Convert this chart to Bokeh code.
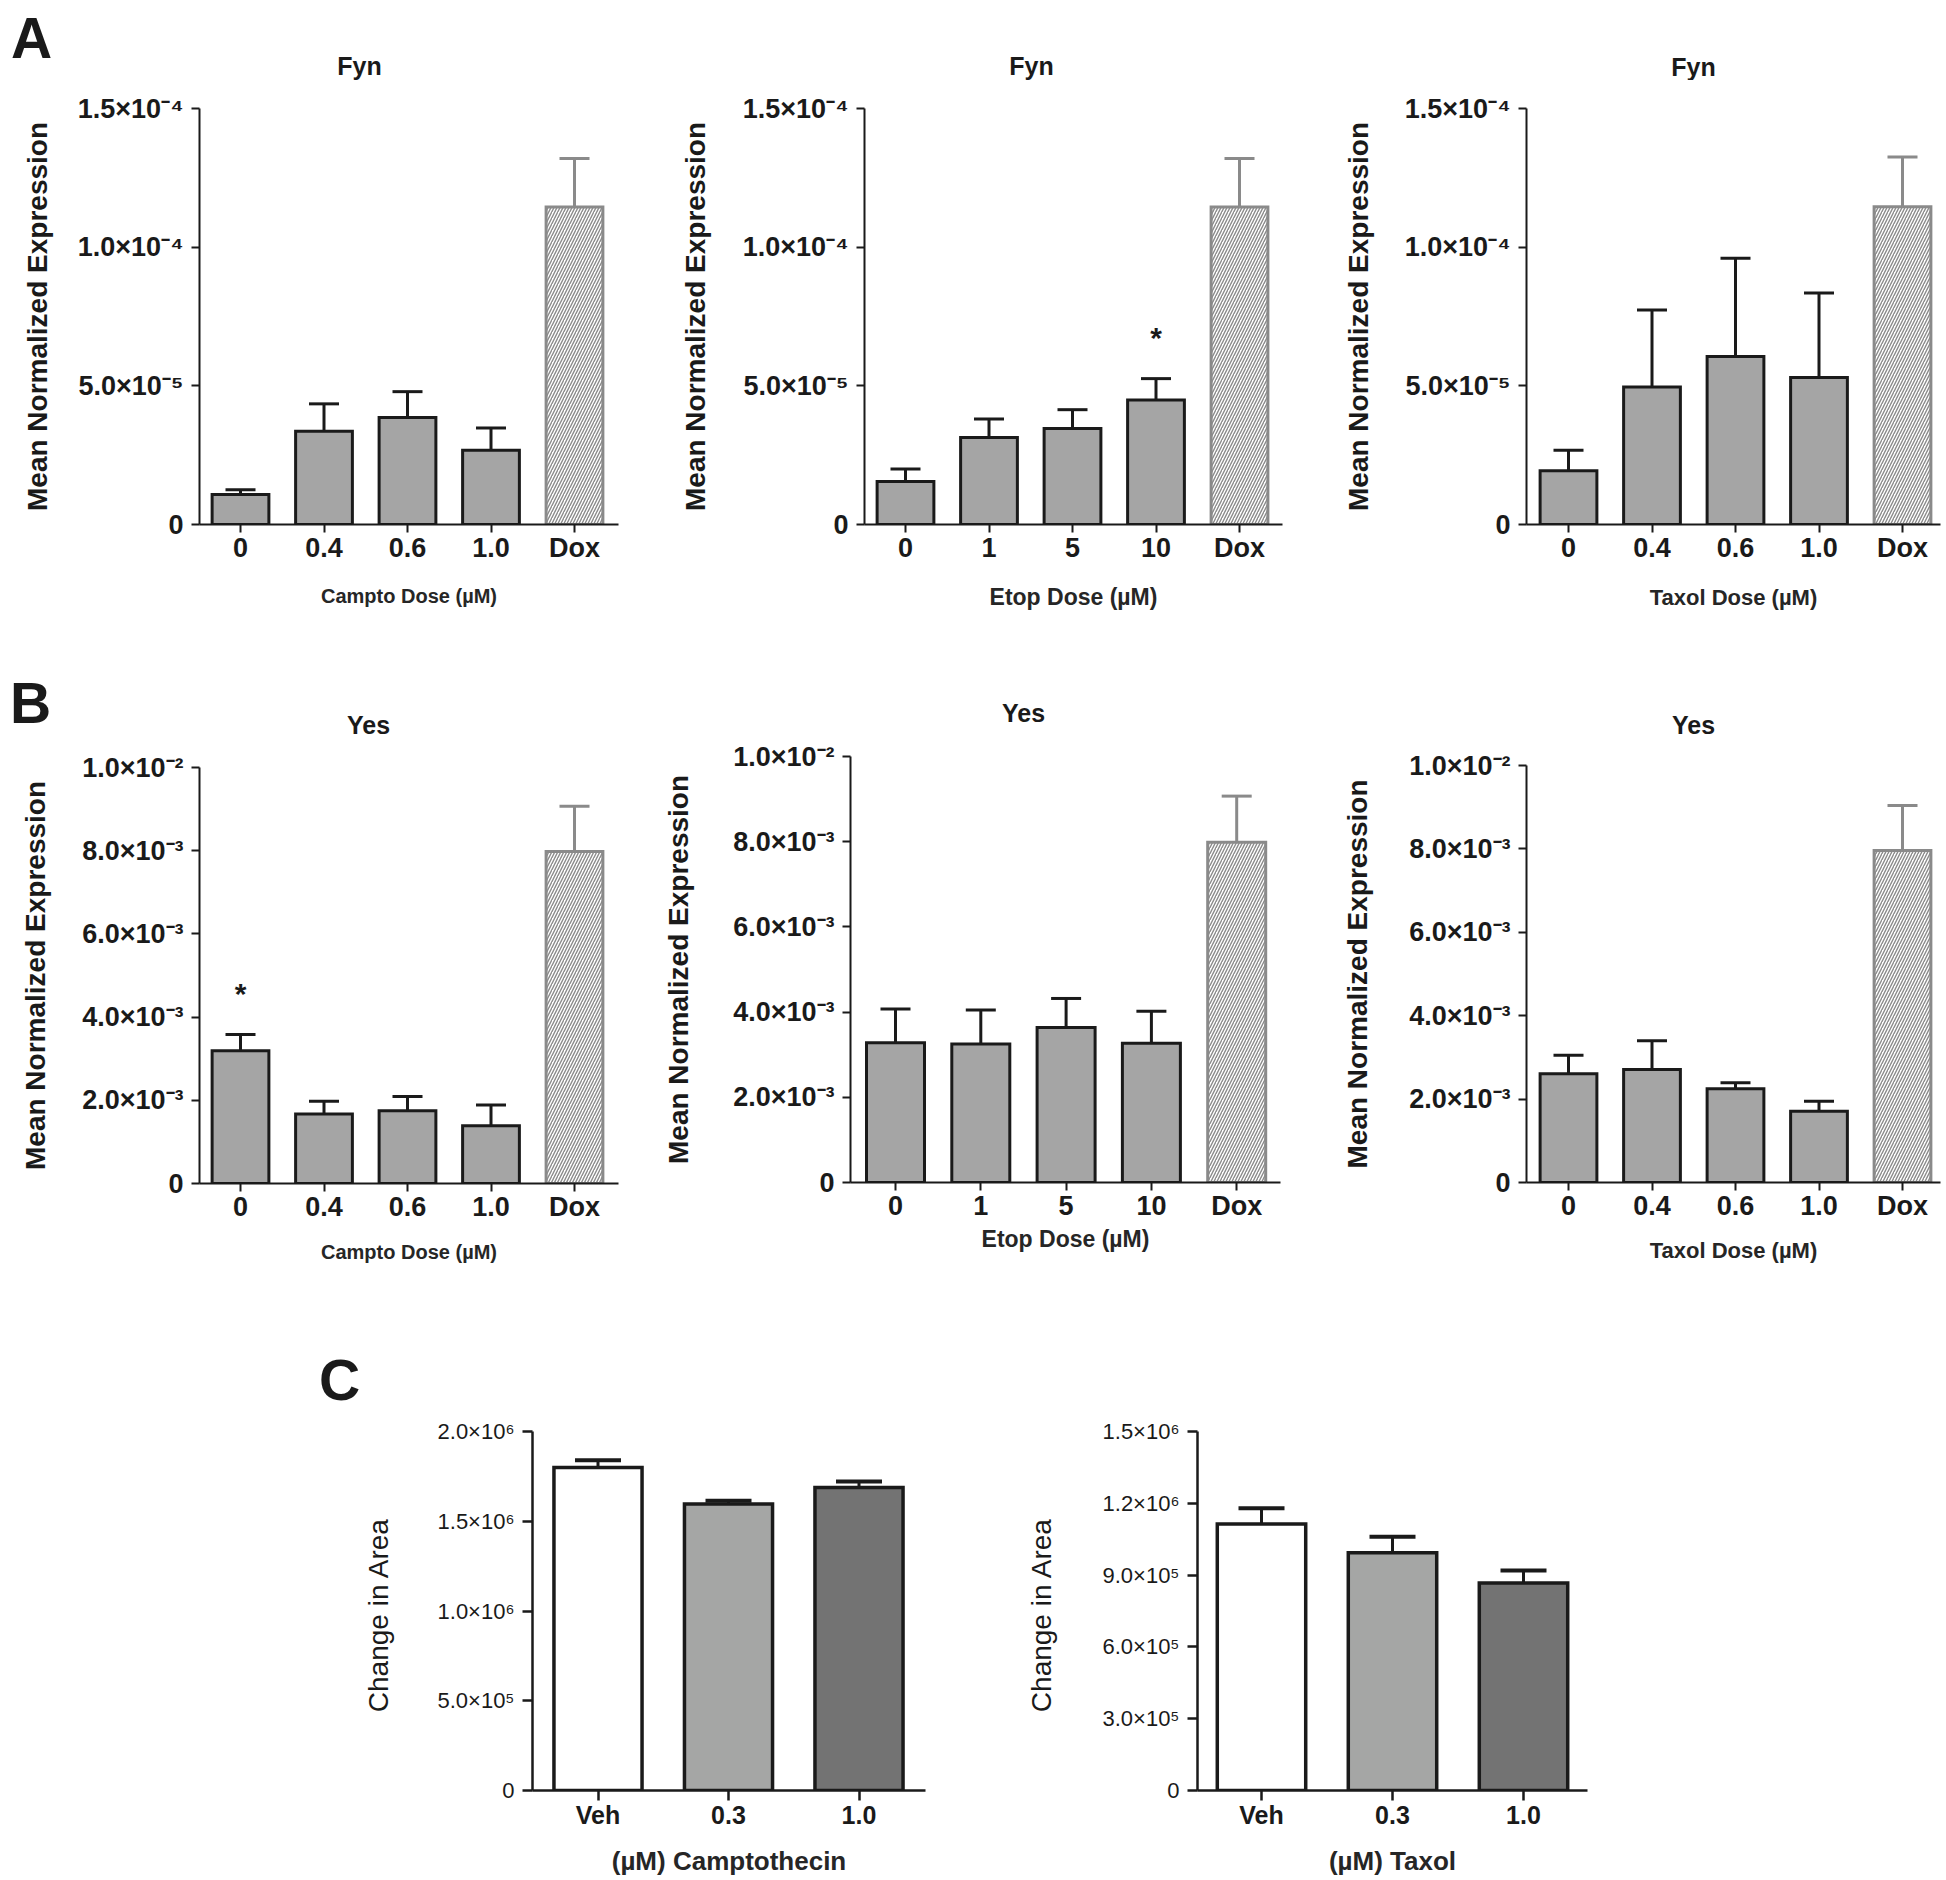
from bokeh.plotting import figure
from bokeh.layouts import row, column
from bokeh.models import FixedTicker, Range1d, Whisker, TeeHead, ColumnDataSource
from bokeh.embed import file_html
from bokeh.resources import INLINE
from bokeh.core.properties import value

FONT = "Liberation Sans"
INK = "#1a1a1a"

# ---------------- data ----------------
campto_doses = ["0", "0.4", "0.6", "1.0", "Dox"]
etop_doses = ["0", "1", "5", "10", "Dox"]
taxol_doses = ["0", "0.4", "0.6", "1.0", "Dox"]

fyn_campto_mean = [1.08e-5, 3.36e-5, 3.86e-5, 2.68e-5, 1.145e-4]
fyn_campto_sem = [0.17e-5, 0.99e-5, 0.93e-5, 0.80e-5, 1.75e-5]
fyn_etop_mean = [1.55e-5, 3.14e-5, 3.46e-5, 4.49e-5, 1.145e-4]
fyn_etop_sem = [0.45e-5, 0.66e-5, 0.68e-5, 0.77e-5, 1.75e-5]
fyn_taxol_mean = [1.94e-5, 4.96e-5, 6.06e-5, 5.30e-5, 1.146e-4]
fyn_taxol_sem = [0.74e-5, 2.77e-5, 3.54e-5, 3.05e-5, 1.79e-5]

yes_campto_mean = [3.19e-3, 1.67e-3, 1.75e-3, 1.39e-3, 7.98e-3]
yes_campto_sem = [0.39e-3, 0.31e-3, 0.34e-3, 0.50e-3, 1.09e-3]
yes_etop_mean = [3.28e-3, 3.25e-3, 3.64e-3, 3.27e-3, 7.99e-3]
yes_etop_sem = [0.79e-3, 0.80e-3, 0.68e-3, 0.75e-3, 1.08e-3]
yes_taxol_mean = [2.61e-3, 2.71e-3, 2.25e-3, 1.71e-3, 7.96e-3]
yes_taxol_sem = [0.44e-3, 0.69e-3, 0.14e-3, 0.24e-3, 1.08e-3]

fyn_etop_sig = [0, 0, 0, 1, 0]
yes_campto_sig = [1, 0, 0, 0, 0]
no_sig = [0, 0, 0, 0, 0]

fyn_ticks = [0, 5e-5, 1e-4, 1.5e-4]
fyn_tick_labels = ["0", "5.0×10⁻⁵", "1.0×10⁻⁴", "1.5×10⁻⁴"]
yes_ticks = [0, 2e-3, 4e-3, 6e-3, 8e-3, 1e-2]
yes_tick_labels = ["0", "2.0×10⁻³", "4.0×10⁻³", "6.0×10⁻³", "8.0×10⁻³", "1.0×10⁻²"]

area_doses = ["Veh", "0.3", "1.0"]
area_campto_mean = [1.80e6, 1.596e6, 1.688e6]
area_campto_sem = [0.04e6, 0.018e6, 0.033e6]
area_taxol_mean = [1.113e6, 0.993e6, 0.867e6]
area_taxol_sem = [0.066e6, 0.067e6, 0.052e6]

campto_area_ticks = [0, 5e5, 1e6, 1.5e6, 2e6]
campto_area_labels = ["0", "5.0×10⁵", "1.0×10⁶", "1.5×10⁶", "2.0×10⁶"]
taxol_area_ticks = [0, 3e5, 6e5, 9e5, 1.2e6, 1.5e6]
taxol_area_labels = ["0", "3.0×10⁵", "6.0×10⁵", "9.0×10⁵", "1.2×10⁶", "1.5×10⁶"]

# ---------------- styling / layout ----------------
BAR_GRAY = "#a5a5a5"
DOX_GRAY = "#8a8a8a"
AREA_COLORS = ["#ffffff", "#a5a6a5", "#737373"]


def strip(width, height, items):
    """A blank strip above a panel that carries panel letters / titles as text."""
    p = figure(width=width, height=height, min_border=0, x_axis_type=None, y_axis_type=None,
               x_range=Range1d(0, width), y_range=Range1d(height, 0),
               output_backend="svg", toolbar_location=None, tools="", frame_align=False)
    p.outline_line_color = None
    p.background_fill_color = "white"
    p.border_fill_color = "white"
    for text, x, y, size in items:
        p.text(x=[x], y=[y], text=[text], text_font=value(FONT), text_font_style="bold",
               text_font_size=size, text_align="center", text_baseline="middle",
               text_color=INK)
    return p


def base_fig(region, frame, first_off, spacing, ncat, ticks, tick_labels, cats,
             ylabel, ylabel_style, ylabel_standoff, xlabel, xlabel_size,
             xlabel_standoff, tick_font, ytick_font, ytick_style, axis_w, tick_len):
    rx0, ry0, rx1, ry1 = region
    fx0, fy0, fx1, fy1 = frame
    fw, fh = fx1 - fx0, fy1 - fy0
    xs = -first_off / spacing
    xe = xs + fw / spacing
    p = figure(frame_width=fw, frame_height=fh,
               min_border_left=fx0 - rx0, min_border_right=rx1 - fx1,
               min_border_top=fy0 - ry0, min_border_bottom=ry1 - fy1,
               x_range=Range1d(xs, xe), y_range=Range1d(0, ticks[-1]),
               output_backend="svg", toolbar_location=None, tools="", frame_align=False)
    p.outline_line_color = None
    p.grid.visible = False
    p.background_fill_color = "white"
    p.border_fill_color = "white"
    for ax in (p.xaxis, p.yaxis):
        ax.axis_line_width = axis_w
        ax.axis_line_color = INK
        ax.major_tick_line_width = axis_w
        ax.major_tick_line_color = INK
        ax.major_tick_out = tick_len
        ax.major_tick_in = 0
        ax.minor_tick_out = 0
        ax.minor_tick_in = 0
        ax.major_label_text_font = FONT
        ax.major_label_text_color = INK
        ax.axis_label_text_font = FONT
        ax.axis_label_text_color = INK
    p.yaxis.ticker = FixedTicker(ticks=ticks)
    p.yaxis.major_label_overrides = dict(zip(ticks, tick_labels))
    p.yaxis.major_label_text_font_size = ytick_font
    p.yaxis.major_label_text_font_style = ytick_style
    p.yaxis.major_label_standoff = 8
    p.yaxis.axis_label = ylabel
    p.yaxis.axis_label_text_font_size = "28px"
    p.yaxis.axis_label_text_font_style = ylabel_style
    p.yaxis.axis_label_standoff = ylabel_standoff
    idx = list(range(ncat))
    p.xaxis.ticker = FixedTicker(ticks=idx)
    p.xaxis.major_label_overrides = dict(zip(idx, cats))
    p.xaxis.major_label_text_font_size = tick_font
    p.xaxis.major_label_text_font_style = "bold"
    p.xaxis.major_label_standoff = 0
    p.xaxis.axis_label = xlabel
    p.xaxis.axis_label_text_font_size = xlabel_size
    p.xaxis.axis_label_text_font_style = "bold"
    p.xaxis.axis_label_text_color = "#262626"
    p.xaxis.axis_label_standoff = xlabel_standoff
    return p


def expr_panel(region, frame, first_off, spacing, cats, means, sems, sig,
               ticks, tick_labels, xlabel, xlabel_size, xlabel_standoff, ylabel_standoff):
    p = base_fig(region, frame, first_off, spacing, len(cats), ticks, tick_labels, cats,
                 "Mean Normalized Expression", "bold", ylabel_standoff, xlabel, xlabel_size,
                 xlabel_standoff, "27px", "27px", "bold", 2, 8)
    n = len(cats)
    idx = list(range(n))
    upper = [m + s for m, s in zip(means, sems)]
    drug = ColumnDataSource(dict(x=idx[:n - 1], top=means[:n - 1], up=upper[:n - 1]))
    dox = ColumnDataSource(dict(x=idx[n - 1:], top=means[n - 1:], up=upper[n - 1:]))
    p.add_layout(Whisker(source=drug, base="x", lower="top", upper="up", dimension="height",
                         line_color=INK, line_width=3, lower_head=None,
                         upper_head=TeeHead(size=30, line_color=INK, line_width=3)))
    p.add_layout(Whisker(source=dox, base="x", lower="top", upper="up", dimension="height",
                         line_color=DOX_GRAY, line_width=3, lower_head=None,
                         upper_head=TeeHead(size=30, line_color=DOX_GRAY, line_width=3)))
    p.vbar(x="x", top="top", bottom=0, width=0.68, source=drug, fill_color=BAR_GRAY,
           line_color=INK, line_width=3, line_join="miter")
    p.vbar(x="x", top="top", bottom=0, width=0.68, source=dox, fill_color="white",
           line_color=DOX_GRAY, line_width=3, line_join="miter",
           hatch_pattern="/", hatch_color=DOX_GRAY, hatch_scale=6, hatch_weight=1.4)
    sx = [i for i, s in zip(idx, sig) if s]
    sy = [u for u, s in zip(upper, sig) if s]
    if sx:
        p.text(x=sx, y=sy, text=["*"] * len(sx), text_font=value(FONT),
               text_font_style="bold", text_font_size="30px", text_align="center",
               text_baseline="alphabetic", y_offset=-41, text_color=INK)
    return p


def area_panel(region, frame, first_off, spacing, cats, means, sems, ticks, tick_labels,
               xlabel, ylabel_standoff):
    p = base_fig(region, frame, first_off, spacing, len(cats), ticks, tick_labels, cats,
                 "Change in  Area", "normal", ylabel_standoff, xlabel, "26px", 14,
                 "25px", "22px", "normal", 2.5, 10)
    idx = list(range(len(cats)))
    upper = [m + s for m, s in zip(means, sems)]
    src = ColumnDataSource(dict(x=idx, top=means, up=upper, color=AREA_COLORS[:len(cats)]))
    p.add_layout(Whisker(source=src, base="x", lower="top", upper="up", dimension="height",
                         line_color=INK, line_width=3, lower_head=None,
                         upper_head=TeeHead(size=46, line_color=INK, line_width=4)))
    p.vbar(x="x", top="top", bottom=0, width=0.675, source=src, fill_color="color",
           line_color=INK, line_width=3.5, line_join="miter")
    return p


# ---- row A (y 0..640) ----
sA1 = strip(640, 80, [("A", 31, 37, "57px"), ("Fyn", 359, 65, "25px")])
a1 = expr_panel((0, 80, 640, 640), (199, 108, 618, 524), 41, 83.5, campto_doses,
                fyn_campto_mean, fyn_campto_sem, no_sig, fyn_ticks, fyn_tick_labels,
                "Campto Dose (µM)", "20px", 19, 22)
sA2 = strip(660, 80, [("Fyn", 391, 65, "25px")])
a2 = expr_panel((640, 80, 1300, 640), (864, 108, 1282, 524), 41, 83.5, etop_doses,
                fyn_etop_mean, fyn_etop_sem, fyn_etop_sig, fyn_ticks, fyn_tick_labels,
                "Etop Dose (µM)", "23px", 18, 29)
sA3 = strip(642, 80, [("Fyn", 393, 66, "25px")])
a3 = expr_panel((1300, 80, 1942, 640), (1526, 108, 1940, 524), 42, 83.5, taxol_doses,
                fyn_taxol_mean, fyn_taxol_sem, no_sig, fyn_ticks, fyn_tick_labels,
                "Taxol Dose (µM)", "22px", 19, 28)

# ---- row B (y 640..1320) ----
sB1 = strip(640, 104, [("B", 30, 62, "57px"), ("Yes", 368, 84, "25px")])
b1 = expr_panel((0, 744, 640, 1320), (199, 767, 618, 1183), 41, 83.5, campto_doses,
                yes_campto_mean, yes_campto_sem, yes_campto_sig, yes_ticks, yes_tick_labels,
                "Campto Dose (µM)", "20px", 16, 28)
sB2 = strip(660, 88, [("Yes", 383, 72, "25px")])
b2 = expr_panel((640, 728, 1300, 1320), (850, 756, 1280, 1182), 45, 85.3, etop_doses,
                yes_etop_mean, yes_etop_sem, no_sig, yes_ticks, yes_tick_labels,
                "Etop Dose (µM)", "23px", 2, 36)
sB3 = strip(642, 100, [("Yes", 393, 84, "25px")])
b3 = expr_panel((1300, 740, 1942, 1320), (1526, 765, 1940, 1182), 42, 83.5, taxol_doses,
                yes_taxol_mean, yes_taxol_sem, no_sig, yes_ticks, yes_tick_labels,
                "Taxol Dose (µM)", "22px", 14, 33)

# ---- row C (y 1320..1876) ----
sC1 = strip(1000, 94, [("C", 339, 59, "57px")])
c1 = area_panel((0, 1414, 1000, 1876), (532, 1431, 925, 1790), 65.5, 130.5, area_doses,
                area_campto_mean, area_campto_sem, campto_area_ticks, campto_area_labels,
                "(µM) Camptothecin", 40)
c2 = area_panel((1000, 1320, 1942, 1876), (1197, 1431, 1587, 1790), 64, 131, area_doses,
                area_taxol_mean, area_taxol_sem, taxol_area_ticks, taxol_area_labels,
                "(µM) Taxol", 42)

layout = column(
    row(column(sA1, a1, spacing=0), column(sA2, a2, spacing=0), column(sA3, a3, spacing=0), spacing=0),
    row(column(sB1, b1, spacing=0), column(sB2, b2, spacing=0), column(sB3, b3, spacing=0), spacing=0),
    row(column(sC1, c1, spacing=0), c2, spacing=0),
    spacing=0)

open("out.html", "w").write(file_html(layout, INLINE, title="Fyn / Yes expression"))
